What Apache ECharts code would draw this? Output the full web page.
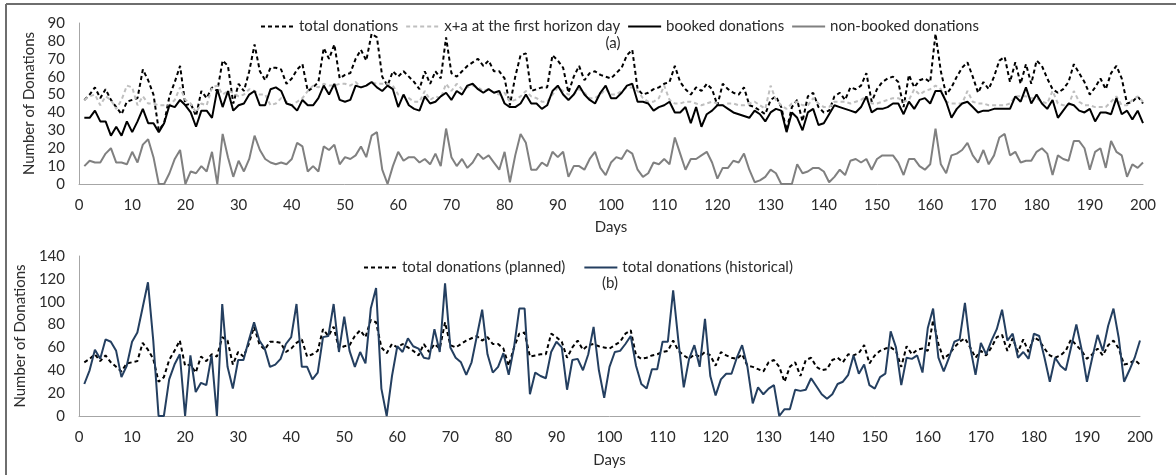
<!DOCTYPE html>
<html>
<head>
<meta charset="utf-8">
<script src="https://cdn.jsdelivr.net/npm/echarts@6/dist/echarts.min.js"></script>
<style>
  html, body { margin: 0; padding: 0; background: #fff; }
  #chart { width: 1176px; height: 475px; }
</style>
</head>
<body>
<div id="chart"></div>
<script>
// Daily donation counts, days 1..200

// total donations (also the planned total in panel b)
const totalDonations = [
  47, 50, 54, 48, 53, 47, 43, 39, 46, 47,
  48, 64, 58, 50, 30, 34, 49, 57, 66, 44,
  45, 38, 52, 48, 54, 52, 69, 66, 45, 56,
  52, 63, 78, 63, 58, 65, 65, 64, 56, 59,
  64, 67, 52, 54, 57, 76, 70, 78, 59, 61,
  62, 70, 75, 69, 84, 82, 60, 55, 63, 60,
  63, 60, 57, 53, 63, 56, 63, 59, 82, 62,
  60, 63, 66, 68, 70, 66, 69, 63, 63, 59,
  44, 60, 72, 73, 52, 53, 54, 54, 72, 69,
  65, 51, 60, 66, 58, 62, 63, 61, 60, 59,
  62, 65, 72, 75, 53, 50, 51, 53, 54, 56,
  57, 66, 57, 53, 50, 54, 52, 56, 53, 44,
  56, 53, 51, 50, 54, 44, 43, 41, 39, 47,
  49, 43, 30, 43, 47, 35, 49, 51, 43, 40,
  41, 49, 51, 47, 54, 53, 55, 62, 46, 53,
  57, 59, 60, 57, 43, 61, 54, 58, 59, 57,
  84, 63, 50, 54, 60, 65, 68, 60, 51, 57,
  53, 60, 69, 71, 57, 68, 56, 67, 56, 69,
  66, 59, 53, 51, 53, 57, 67, 62, 57, 50,
  54, 59, 53, 62, 66, 59, 45, 46, 49, 45
];

// x+a at the first horizon day
const xPlusA = [
  47, 49, 50, 44, 49, 47, 42, 47, 55, 54,
  44, 49, 45, 45, 44, 44, 44, 47, 54, 47,
  45, 40, 45, 44, 54, 55, 50, 52, 51, 49,
  50, 53, 52, 50, 50, 44, 45, 48, 46, 44,
  46, 48, 52, 55, 54, 56, 55, 55, 56, 56,
  55, 57, 54, 55, 57, 56, 56, 56, 55, 50,
  49, 48, 46, 46, 52, 47, 49, 48, 56, 52,
  56, 53, 54, 55, 54, 52, 53, 51, 50, 51,
  46, 47, 49, 52, 49, 48, 46, 46, 50, 54,
  52, 50, 50, 53, 51, 48, 48, 50, 53, 50,
  50, 52, 54, 54, 52, 48, 46, 46, 48, 55,
  47, 45, 45, 46, 46, 45, 44, 45, 46, 45,
  44, 45, 45, 44, 44, 45, 46, 44, 42, 55,
  47, 44, 42, 45, 46, 44, 44, 48, 45, 43,
  43, 46, 46, 46, 45, 46, 47, 49, 45, 45,
  46, 47, 48, 48, 46, 47, 53, 50, 52, 53,
  55, 53, 46, 45, 45, 45, 52, 46, 45, 45,
  44, 44, 44, 44, 45, 49, 49, 49, 48, 48,
  46, 45, 52, 45, 44, 44, 52, 46, 44, 44,
  43, 43, 43, 46, 49, 44, 44, 47, 49, 46
];

// booked donations
const bookedDonations = [
  37, 37, 41, 35, 35, 27, 32, 27, 35, 29,
  35, 42, 34, 34, 29, 34, 44, 43, 47, 44,
  40, 32, 41, 41, 37, 53, 43, 52, 41, 44,
  45, 50, 52, 44, 44, 53, 54, 52, 45, 44,
  41, 47, 44, 44, 48, 55, 50, 56, 47, 46,
  47, 55, 54, 55, 57, 54, 52, 55, 53, 43,
  50, 44, 42, 41, 49, 45, 46, 49, 51, 47,
  52, 50, 55, 56, 53, 51, 53, 51, 52, 45,
  43, 43, 45, 50, 45, 45, 42, 44, 52, 55,
  50, 47, 50, 55, 50, 47, 45, 51, 55, 48,
  48, 51, 55, 56, 46, 46, 45, 41, 43, 44,
  46, 40, 40, 43, 34, 43, 32, 39, 41, 44,
  44, 42, 40, 39, 38, 37, 41, 39, 35, 40,
  42, 41, 29, 40, 37, 30, 40, 42, 33, 34,
  39, 44, 43, 42, 41, 40, 43, 49, 40, 42,
  42, 43, 45, 45, 39, 46, 42, 47, 48, 45,
  52, 52, 46, 37, 42, 45, 46, 43, 40, 41,
  41, 42, 42, 42, 42, 49, 46, 54, 45, 50,
  45, 42, 47, 37, 41, 45, 44, 41, 40, 42,
  35, 40, 40, 39, 48, 39, 41, 36, 41, 34
];

// non-booked donations
const nonBookedDonations = [
  10, 13, 12, 12, 17, 20, 12, 12, 11, 18,
  12, 22, 25, 15, 0, 0, 6, 14, 19, 0,
  7, 6, 10, 7, 18, 0, 28, 15, 4, 13,
  7, 14, 27, 19, 14, 12, 11, 12, 11, 14,
  23, 21, 7, 10, 7, 21, 19, 22, 11, 15,
  14, 16, 21, 15, 27, 29, 8, 0, 10, 18,
  13, 15, 15, 12, 14, 11, 17, 10, 31, 15,
  10, 14, 9, 12, 17, 14, 16, 12, 8, 18,
  1, 16, 28, 23, 8, 8, 12, 10, 18, 15,
  18, 4, 10, 10, 8, 14, 18, 9, 5, 12,
  15, 14, 19, 17, 8, 4, 6, 12, 11, 14,
  11, 26, 17, 8, 14, 14, 16, 18, 12, 3,
  9, 9, 13, 12, 17, 8, 1, 2, 4, 8,
  6, 0, 0, 0, 11, 6, 7, 9, 9, 7,
  1, 4, 8, 5, 13, 14, 12, 14, 8, 14,
  16, 16, 16, 12, 5, 14, 14, 10, 8, 11,
  31, 11, 6, 16, 17, 19, 23, 16, 12, 19,
  11, 16, 26, 28, 16, 18, 12, 13, 13, 18,
  20, 17, 5, 16, 14, 13, 24, 24, 20, 8,
  18, 20, 9, 24, 18, 16, 4, 11, 9, 12
];

// total donations (historical)
const historicalDonations = [
  28, 40, 58, 50, 67, 65, 57, 34, 44, 65,
  73, 95, 117, 66, 0, 0, 32, 45, 54, 0,
  53, 21, 29, 27, 53, 0, 98, 43, 24, 49,
  49, 66, 82, 66, 59, 43, 45, 50, 63, 69,
  98, 43, 43, 32, 38, 69, 70, 98, 56, 87,
  57, 43, 56, 46, 94, 112, 24, 0, 35, 61,
  56, 68, 61, 59, 51, 50, 76, 56, 116, 60,
  51, 47, 36, 47, 70, 93, 54, 38, 43, 55,
  36, 60, 94, 94, 19, 38, 35, 33, 56, 65,
  60, 23, 49, 50, 40, 54, 78, 40, 16, 43,
  56, 57, 63, 70, 44, 28, 24, 41, 41, 65,
  65, 110, 65, 25, 50, 62, 43, 85, 35, 18,
  32, 37, 37, 51, 62, 43, 11, 25, 19, 24,
  27, 0, 6, 6, 23, 22, 23, 33, 26, 19,
  15, 19, 28, 30, 36, 53, 37, 45, 27, 24,
  34, 37, 74, 60, 27, 51, 50, 53, 38, 77,
  94, 51, 39, 51, 65, 67, 99, 60, 36, 64,
  54, 66, 76, 93, 66, 72, 51, 56, 50, 72,
  70, 51, 30, 51, 44, 40, 60, 80, 58, 30,
  51, 71, 57, 79, 94, 68, 30, 40, 51, 66
];

// x-axis and y-axis tick settings
const dayTicks = { min: 0, max: 200, step: 10 };
const topTicks = { min: 0, max: 90, step: 10 };
const bottomTicks = { min: 0, max: 140, step: 20 };

const days = totalDonations.map((_, i) => i + 1);
const toPoints = vals => vals.map((v, i) => [days[i], v]);

const FONT = 'Lato, "Liberation Sans", sans-serif';
const FONT_SIZE = 15;
const TEXT = '#2b2b2b';
const AXIS = '#a6a6a6';

function xAxisFor(gridIndex, gap) {
  return {
    gridIndex, type: 'value',
    min: dayTicks.min, max: dayTicks.max, interval: dayTicks.step,
    axisLine: { show: true, lineStyle: { color: AXIS, width: 1 } },
    axisTick: { show: false },
    splitLine: { show: false },
    axisLabel: { color: TEXT, fontSize: FONT_SIZE, fontFamily: FONT, margin: 14 },
    name: 'Days', nameLocation: 'middle', nameGap: gap,
    nameTextStyle: { color: TEXT, fontSize: FONT_SIZE, fontFamily: FONT }
  };
}

function yAxisFor(gridIndex, ticks, gap) {
  return {
    gridIndex, type: 'value',
    min: ticks.min, max: ticks.max, interval: ticks.step,
    axisLine: { show: true, lineStyle: { color: AXIS, width: 1 } },
    axisTick: { show: false },
    splitLine: { show: false },
    axisLabel: { color: TEXT, fontSize: FONT_SIZE, fontFamily: FONT, margin: 14 },
    name: 'Number of Donations', nameLocation: 'middle', nameGap: gap, nameRotate: 90,
    nameTextStyle: { color: TEXT, fontSize: FONT_SIZE, fontFamily: FONT }
  };
}

function lineSeries(name, vals, axisIndex, color, dashed) {
  return {
    name, type: 'line',
    xAxisIndex: axisIndex, yAxisIndex: axisIndex,
    data: toPoints(vals),
    symbol: 'none',
    smooth: false,
    animation: false,
    lineStyle: { color, width: 2, type: dashed ? [4, 3] : 'solid' },
    itemStyle: { color }
  };
}

const legendBase = {
  itemWidth: 33, itemHeight: 12,
  itemStyle: { opacity: 0 },
  textStyle: { color: TEXT, fontSize: FONT_SIZE, fontFamily: FONT }
};

const chart = echarts.init(document.getElementById('chart'), null, { renderer: 'canvas' });

chart.setOption({
  backgroundColor: '#ffffff',
  animation: false,
  grid: [
    { left: 79, right: 33, top: 23, bottom: 291 },
    { left: 79, right: 36, top: 256, bottom: 59 }
  ],
  xAxis: [xAxisFor(0, 36), xAxisFor(1, 37)],
  yAxis: [yAxisFor(0, topTicks, 30), yAxisFor(1, bottomTicks, 39)],
  legend: [
    Object.assign({}, legendBase, {
      left: 255, top: 14, itemGap: 7,
      data: ['total donations', 'x+a at the first horizon day', 'booked donations', 'non-booked donations']
    }),
    Object.assign({}, legendBase, {
      left: 358, top: 255, itemGap: 18,
      data: ['total donations (planned)', 'total donations (historical)']
    })
  ],
  graphic: [
    { type: 'line', shape: { x1: 6, y1: 4, x2: 1176, y2: 4 }, style: { stroke: '#6e6e6e', lineWidth: 2 } },
    { type: 'line', shape: { x1: 6, y1: 4, x2: 6, y2: 475 }, style: { stroke: '#6e6e6e', lineWidth: 2 } },
    { type: 'text', x: 613, y: 43, style: { text: '(a)', fill: TEXT, font: FONT_SIZE + 'px ' + FONT, textAlign: 'center', textVerticalAlign: 'middle' } },
    { type: 'text', x: 610, y: 283, style: { text: '(b)', fill: TEXT, font: FONT_SIZE + 'px ' + FONT, textAlign: 'center', textVerticalAlign: 'middle' } }
  ],
  series: [
    lineSeries('total donations', totalDonations, 0, '#000000', true),
    lineSeries('x+a at the first horizon day', xPlusA, 0, '#bfbfbf', true),
    lineSeries('booked donations', bookedDonations, 0, '#000000', false),
    lineSeries('non-booked donations', nonBookedDonations, 0, '#808080', false),
    lineSeries('total donations (planned)', totalDonations, 1, '#000000', true),
    lineSeries('total donations (historical)', historicalDonations, 1, '#243f60', false)
  ]
});
</script>
</body>
</html>
